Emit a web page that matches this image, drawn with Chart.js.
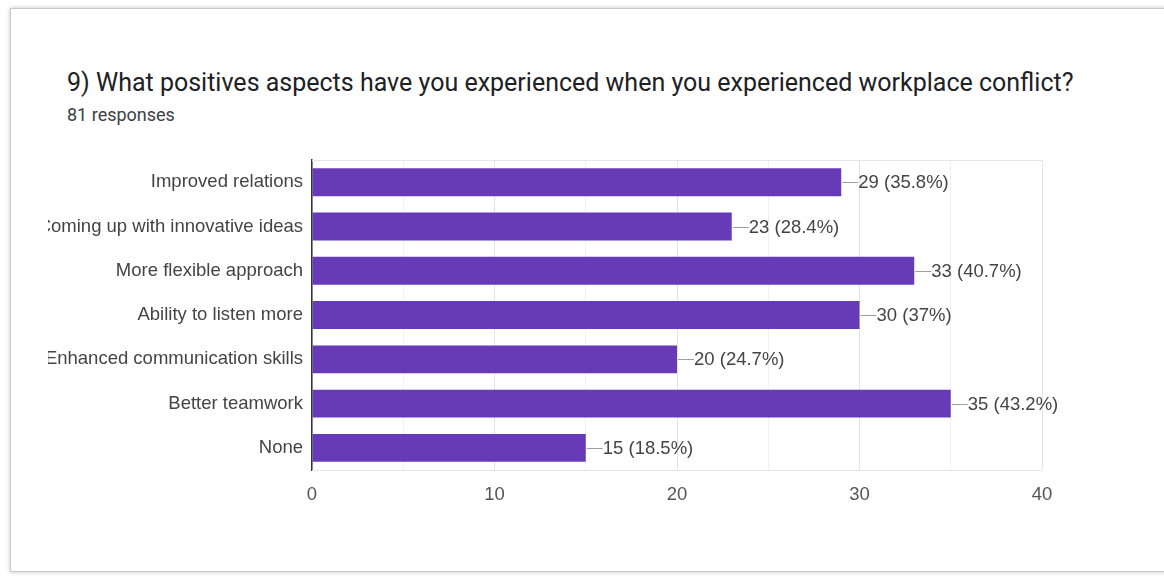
<!DOCTYPE html>
<html>
<head>
<meta charset="utf-8">
<script src="https://cdn.jsdelivr.net/npm/chart.js@4/dist/chart.umd.min.js"></script>
<style>
  html, body { margin: 0; padding: 0; background: #fff; width: 1164px; height: 578px; overflow: hidden; }
  .card {
    position: absolute; left: 10px; top: 8px; width: 1200px; height: 562px;
    border: 1px solid #c9c9c9; box-shadow: 0 0 4px rgba(0,0,0,0.25); background: #fff;
  }
  .title {
    position: absolute; left: 67px; top: 68px; margin: 0;
    font: 400 25px Roboto, sans-serif; color: #202124; white-space: nowrap;
  }
  .sub {
    position: absolute; left: 67px; top: 104px;
    font: 400 18px Roboto, sans-serif; color: #3c4043; white-space: nowrap;
  }
  .wrap { position: absolute; left: 48px; top: 140px; width: 1062px; height: 370px; }
</style>
</head>
<body>
<div class="card"></div>
<div class="title">9) What positives aspects have you experienced when you experienced workplace conflict?</div>
<div class="sub">81 responses</div>
<div class="wrap"><canvas id="c"></canvas></div>
<script>
const categories = [
  "Improved relations",
  "Coming up with innovative ideas",
  "More flexible approach",
  "Ability to listen more",
  "Enhanced communication skills",
  "Better teamwork",
  "None"
];
const counts = [29, 23, 33, 30, 20, 35, 15];
const percents = ["35.8%", "28.4%", "40.7%", "37%", "24.7%", "43.2%", "18.5%"];
const xTicks = [0, 10, 20, 30, 40];

const FONT = "'Liberation Sans', Arial, sans-serif";
const FONT_SIZE = 18.5;

// Leader line + "count (percent)" next to each bar, and the frame lines of the plot area
const valueLabels = {
  id: 'valueLabels',
  beforeDatasetsDraw(chart) {
    const { ctx, chartArea: a } = chart;
    ctx.save();
    ctx.strokeStyle = '#e6e6e6';
    ctx.lineWidth = 1;
    ctx.beginPath();
    ctx.moveTo(a.left, Math.round(a.top) + 0.5);
    ctx.lineTo(a.right, Math.round(a.top) + 0.5);
    ctx.moveTo(a.left, Math.round(a.bottom) + 0.5);
    ctx.lineTo(a.right, Math.round(a.bottom) + 0.5);
    ctx.stroke();
    ctx.restore();
  },
  afterDatasetsDraw(chart) {
    const { ctx } = chart;
    const meta = chart.getDatasetMeta(0);
    ctx.save();
    ctx.font = FONT_SIZE + 'px ' + FONT;
    ctx.textBaseline = 'middle';
    ctx.textAlign = 'left';
    meta.data.forEach((bar, i) => {
      const y = Math.round(bar.y) + 0.5;
      ctx.strokeStyle = '#9e9e9e';
      ctx.lineWidth = 1;
      ctx.beginPath();
      ctx.moveTo(bar.x + 1, y);
      ctx.lineTo(bar.x + 17, y);
      ctx.stroke();
      ctx.fillStyle = '#444';
      ctx.fillText(counts[i] + ' (' + percents[i] + ')', bar.x + 17, bar.y + 1);
    });
    ctx.restore();
  }
};

new Chart(document.getElementById('c'), {
  type: 'bar',
  data: {
    labels: categories,
    datasets: [{
      data: counts,
      backgroundColor: '#673ab7',
      borderWidth: 0,
      barPercentage: 0.63,
      categoryPercentage: 1.0
    }]
  },
  options: {
    indexAxis: 'y',
    responsive: true,
    maintainAspectRatio: false,
    animation: false,
    layout: { padding: { top: 18, right: 68, bottom: 0, left: 0 } },
    plugins: { legend: { display: false }, tooltip: { enabled: false } },
    scales: {
      x: {
        min: 0, max: 40,
        afterBuildTicks(scale) {
          const t = [];
          for (let v = 0; v <= 40; v += 5) t.push({ value: v });
          scale.ticks = t;
        },
        afterFit(scale) { scale.height = 40; },
        grid: {
          color: (c) => (c.tick && c.tick.value % 10 === 0) ? '#e3e3e3' : '#f1f1f1',
          lineWidth: 1,
          drawTicks: false
        },
        border: { display: false },
        ticks: {
          padding: 14,
          color: '#555',
          font: { family: FONT, size: FONT_SIZE },
          autoSkip: false,
          maxRotation: 0,
          callback: (v) => xTicks.includes(v) ? String(v) : ''
        }
      },
      y: {
        afterFit(scale) { scale.width = 264; },
        grid: { display: false, drawTicks: false },
        border: { display: true, color: '#333', width: 1.5 },
        ticks: {
          padding: 9,
          color: '#444',
          font: { family: FONT, size: FONT_SIZE },
          autoSkip: false
        }
      }
    }
  },
  plugins: [valueLabels]
});
</script>
</body>
</html>
